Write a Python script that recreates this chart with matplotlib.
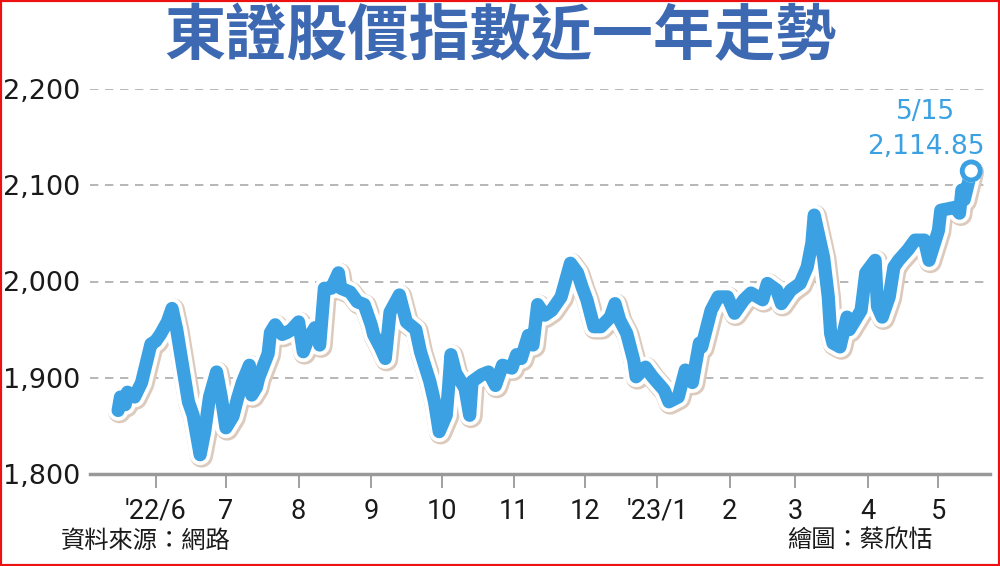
import matplotlib
matplotlib.use('Agg')
import matplotlib.pyplot as plt
import matplotlib.patheffects as pe
from matplotlib.patches import Rectangle
import pandas as pd

# TOPIX close
dates = [
    '2022-05-16', '2022-05-17', '2022-05-19', '2022-05-20', '2022-05-23', '2022-05-26', '2022-05-27',
    '2022-05-30', '2022-06-01', '2022-06-03', '2022-06-06', '2022-06-08', '2022-06-10', '2022-06-13',
    '2022-06-15', '2022-06-17', '2022-06-20', '2022-06-22', '2022-06-24', '2022-06-27', '2022-06-29',
    '2022-07-01', '2022-07-04', '2022-07-06', '2022-07-08', '2022-07-11', '2022-07-12', '2022-07-14',
    '2022-07-15', '2022-07-19', '2022-07-20', '2022-07-22', '2022-07-25', '2022-07-27', '2022-07-29',
    '2022-08-01', '2022-08-03', '2022-08-05', '2022-08-08', '2022-08-09', '2022-08-10', '2022-08-12',
    '2022-08-15', '2022-08-18', '2022-08-19', '2022-08-23', '2022-08-26', '2022-08-29', '2022-09-01',
    '2022-09-02', '2022-09-05', '2022-09-07', '2022-09-09', '2022-09-13', '2022-09-16', '2022-09-20',
    '2022-09-22', '2022-09-26', '2022-09-28', '2022-09-30', '2022-10-03', '2022-10-04', '2022-10-05',
    '2022-10-07', '2022-10-11', '2022-10-13', '2022-10-14', '2022-10-18', '2022-10-21', '2022-10-24',
    '2022-10-27', '2022-10-31', '2022-11-02', '2022-11-04', '2022-11-07', '2022-11-09', '2022-11-11',
    '2022-11-14', '2022-11-17', '2022-11-21', '2022-11-25', '2022-11-28', '2022-11-30', '2022-12-02',
    '2022-12-05', '2022-12-08', '2022-12-12', '2022-12-14', '2022-12-16', '2022-12-19', '2022-12-22',
    '2022-12-23', '2022-12-27', '2022-12-30', '2023-01-04', '2023-01-06', '2023-01-10', '2023-01-13',
    '2023-01-16', '2023-01-19', '2023-01-20', '2023-01-24', '2023-01-27', '2023-01-31', '2023-02-03',
    '2023-02-07', '2023-02-10', '2023-02-15', '2023-02-17', '2023-02-21', '2023-02-23', '2023-02-27',
    '2023-03-03', '2023-03-06', '2023-03-08', '2023-03-09', '2023-03-13', '2023-03-15', '2023-03-16',
    '2023-03-17', '2023-03-20', '2023-03-23', '2023-03-24', '2023-03-29', '2023-03-31', '2023-04-04',
    '2023-04-05', '2023-04-07', '2023-04-10', '2023-04-12', '2023-04-14', '2023-04-18', '2023-04-21',
    '2023-04-25', '2023-04-27', '2023-05-01', '2023-05-02', '2023-05-08', '2023-05-10', '2023-05-11',
    '2023-05-12', '2023-05-15',
]
values = [
    1866, 1880, 1872, 1885, 1880, 1895, 1905,
    1935, 1938, 1945, 1958, 1972, 1950, 1905,
    1875, 1861, 1820, 1845, 1880, 1906, 1880,
    1848, 1860, 1879, 1895, 1913, 1882, 1890,
    1900, 1925, 1947, 1955, 1945, 1947, 1950,
    1958, 1927, 1940, 1952, 1945, 1934, 1993,
    1993, 2009, 1993, 1989, 1979, 1976, 1955,
    1945, 1931, 1920, 1968, 1986, 1958, 1950,
    1927, 1896, 1875, 1844, 1861, 1890, 1924,
    1905, 1889, 1861, 1896, 1903, 1906, 1892,
    1913, 1910, 1924, 1920, 1944, 1934, 1976,
    1965, 1970, 1984, 2019, 2009, 1994, 1981,
    1953, 1953, 1963, 1977, 1960, 1946, 1918,
    1901, 1911, 1901, 1887, 1875, 1880, 1908,
    1895, 1936, 1932, 1970, 1984, 1984, 1967,
    1981, 1988, 1981, 1998, 1991, 1977, 1991,
    1998, 2015, 2040, 2069, 2025, 1984, 1946,
    1936, 1932, 1963, 1950, 1970, 2009, 2022,
    1974, 1963, 1984, 2015, 2022, 2033, 2043,
    2043, 2022, 2053, 2074, 2077, 2071, 2095,
    2085, 2114.85,
]

tick_dates = ['2022-06-01', '2022-07-01', '2022-08-01', '2022-09-01', '2022-10-01', '2022-11-01',
              '2022-12-01', '2023-01-01', '2023-02-01', '2023-03-01', '2023-04-01', '2023-05-01']
tick_labels = ["'22/6", '7', '8', '9', '10', '11', '12', "'23/1", '2', '3', '4', '5']
y_ticks = [1800, 1900, 2000, 2100, 2200]

title = '東證股價指數近一年走勢'
source = '資料來源：網路'
credit = '繪圖：蔡欣恬'
last_label = '5/15\n2,114.85'

BLUE = '#3ba1e2'
TITLE_BLUE = '#3d68b2'

x = pd.to_datetime(dates)

fig = plt.figure(figsize=(10, 5.66), dpi=100)
ax = fig.add_axes([0.09, 92 / 566, 0.90, 385 / 566])

# thick line with white halo and a faint warm shadow
ax.plot(x, values, color=BLUE, linewidth=9.5, solid_joinstyle='round', solid_capstyle='round',
        clip_on=False, zorder=3,
        path_effects=[pe.Stroke(linewidth=16.5, foreground='#dccabd', offset=(1, -1)),
                      pe.Stroke(linewidth=15, foreground='white'),
                      pe.Normal()])
ax.plot(x[-1:], values[-1:], marker='o', markersize=13, markerfacecolor='white',
        markeredgecolor=BLUE, markeredgewidth=3.5, linestyle='none', clip_on=False, zorder=4,
        path_effects=[pe.Stroke(linewidth=3.5, foreground='white'), pe.Normal()])

ax.annotate(last_label, xy=(x[-1], values[-1]), xytext=(-33, 8), textcoords='offset points',
            ha='center', va='bottom', fontsize=19, color=BLUE, linespacing=1.45,
            fontfamily='DejaVu Sans')

ax.set_xlim(pd.Timestamp('2022-05-04'), pd.Timestamp('2023-05-23'))
ax.set_ylim(1800, 2200)
ax.set_yticks(y_ticks)
ax.set_yticklabels([f'{v:,}' for v in y_ticks], fontsize=19.5, fontfamily='DejaVu Sans', color='#1a1a1a')
ax.set_xticks(pd.to_datetime(tick_dates))
ax.set_xticklabels(tick_labels, fontsize=19.5, fontfamily='Roboto', color='#1a1a1a')
ax.tick_params(axis='y', length=0, pad=7)
ax.tick_params(axis='x', length=10, width=1.3, color='#999999', pad=7)

for v in y_ticks[1:]:
    ax.axhline(v, color='#aaaaaa', linewidth=1.2, linestyle=(0, (5, 4)), zorder=1)

for side in ['top', 'right', 'left']:
    ax.spines[side].set_visible(False)
ax.spines['bottom'].set_color('#999999')
ax.spines['bottom'].set_linewidth(2.5)

fig.text(0.5, 1 - 37 / 566, title, ha='center', va='center', fontsize=44, fontweight='bold',
         color=TITLE_BLUE, fontfamily='Noto Sans CJK TC')
fig.text(0.061, 1 - 541 / 566, source, ha='left', va='center', fontsize=17.5,
         fontfamily='Noto Sans CJK TC', color='#1a1a1a')
fig.text(0.933, 1 - 541 / 566, credit, ha='right', va='center', fontsize=17.5,
         fontfamily='Noto Sans CJK TC', color='#1a1a1a')

fig.patches.append(Rectangle((0, 0), 1, 1, transform=fig.transFigure, fill=False,
                             edgecolor='#ee1111', linewidth=3))

fig.savefig('out.png', dpi=100, facecolor='white')
